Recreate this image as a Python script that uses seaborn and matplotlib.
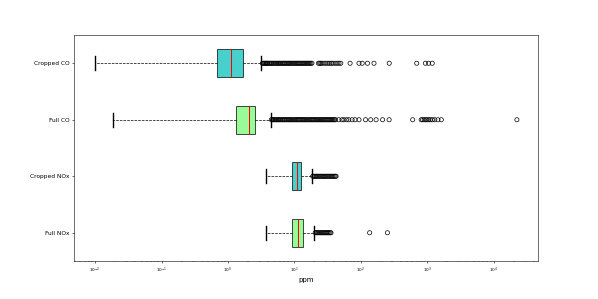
import numpy as np
import pandas as pd
import matplotlib
matplotlib.use("Agg")
import matplotlib.pyplot as plt
import seaborn as sns

categories = ["Cropped CO", "Full CO", "Cropped NOx", "Full NOx"]
box_colors = ["#48D1CC", "#98FB98", "#48D1CC", "#98FB98"]

# five-number summaries: lower whisker, Q1, median, Q3, upper whisker
cropped_co_stats = [0.01, 0.69, 1.12, 1.71, 3.2]
full_co_stats = [0.0186, 1.31, 2.1, 2.54, 4.38]
cropped_nox_stats = [3.73, 9.14, 10.9, 12.7, 18.4]
full_nox_stats = [3.73, 9.36, 11.4, 13.6, 20.0]

# outliers (dense bands listed point by point)
cropped_co_out = [3.3, 3.4, 3.5, 3.6, 3.7, 3.8, 3.9, 4.0, 4.2, 4.3, 4.5, 4.6, 4.8,
                  5.0, 5.2, 5.4, 5.6, 5.8, 6.0, 6.2, 6.5, 6.7, 7.0, 7.2, 7.5, 7.8,
                  8.1, 8.4, 8.7, 9.0, 9.4, 9.7, 10.1, 10.5, 10.9, 11.3, 11.7, 12.1,
                  12.6, 13.1, 13.6, 14.1, 14.6, 15.2, 15.8, 16.4, 17.0, 17.7, 18.4,
                  23, 24, 25, 26, 28, 30, 32, 34, 36, 38, 41, 44, 47, 50,
                  69, 94, 105, 126, 158, 268, 695, 940, 1050, 1190]
full_co_out = [4.5, 4.7, 4.8, 5.0, 5.2, 5.4, 5.6, 5.8, 6.0, 6.2, 6.5, 6.7, 7.0,
               7.2, 7.5, 7.8, 8.1, 8.4, 8.7, 9.0, 9.4, 9.7, 10.1, 10.5, 10.9,
               11.3, 11.7, 12.1, 12.6, 13.1, 13.6, 14.1, 14.6, 15.2, 15.8, 16.4,
               17.0, 17.7, 18.4, 19.1, 19.8, 20.6, 21.4, 22.2, 23.0, 23.9, 24.8,
               25.7, 26.7, 27.7, 28.8, 29.9, 31.0, 32.2, 33.4, 34.6, 35.9, 37.3,
               38.7, 40.2, 41.6, 46.5, 52, 55.6, 61, 66, 74, 82, 94, 118, 141, 170,
               213, 267, 604, 812, 850, 900, 950, 1000, 1060, 1120, 1200, 1300,
               1450, 1630, 22400]
cropped_nox_out = [18.9, 19.6, 20.4, 21.2, 22.0, 22.9, 23.8, 24.8, 25.8, 26.8,
                   27.9, 29.0, 30.2, 31.4, 32.7, 34.0, 35.4, 36.8, 38.3, 39.8,
                   41.3, 42.5]
full_nox_out = [20.6, 21.4, 22.2, 23.0, 23.9, 24.8, 25.7, 26.7, 27.7, 28.8,
                29.9, 31.0, 32.2, 33.4, 34.6, 35.6, 136, 252]

stats = [cropped_co_stats, full_co_stats, cropped_nox_stats, full_nox_stats]
outs = [cropped_co_out, full_co_out, cropped_nox_out, full_nox_out]

box_df = pd.DataFrame({
    "group": np.repeat(categories, [len(s) for s in stats]),
    "ppm": np.concatenate(stats),
})
out_df = pd.DataFrame({
    "group": np.repeat(categories, [len(o) for o in outs]),
    "ppm": np.concatenate(outs),
})

fig = plt.figure(figsize=(598 / 50, 299 / 50), dpi=50)
ax = fig.add_axes([74 / 598, 1 - 261 / 299, (538 - 74) / 598, (261 - 35) / 299])

sns.boxplot(data=box_df, x="ppm", y="group", order=categories, hue="group",
            hue_order=categories, palette=box_colors, legend=False, saturation=1,
            orient="h", whis=(0, 100), showfliers=False, width=0.5, ax=ax,
            linewidth=1.0,
            medianprops=dict(color="red", linewidth=1.5),
            whiskerprops=dict(color="black", linestyle="--", linewidth=1.0),
            capprops=dict(color="black", linewidth=2.0),
            boxprops=dict(edgecolor="black", linewidth=1.0))

for cont in ax.containers:
    for m in getattr(cont, "medians", []):
        m.set_color("red")
        m.set_linewidth(1.5)
        m.set_zorder(5)
    for w in getattr(cont, "whiskers", []):
        w.set_color("black")
        w.set_linestyle("--")
    for c in getattr(cont, "caps", []):
        c.set_color("black")

sns.stripplot(data=out_df, x="ppm", y="group", order=categories, jitter=False,
              color="black", marker="o", size=6, linewidth=1.0,
              edgecolor="black", facecolor="none", ax=ax)
for coll in ax.collections:
    coll.set_facecolor("none")
    coll.set_edgecolor("black")

ax.set_xscale("log")
ax.set_ylim(3.5, -0.5)
ax.set_ylabel("")
ax.set_xlabel("ppm", fontsize=10, labelpad=2)
ax.tick_params(axis="y", labelsize=8.5)
ax.tick_params(axis="x", labelsize=6)

fig.savefig("out.png", dpi=50)
